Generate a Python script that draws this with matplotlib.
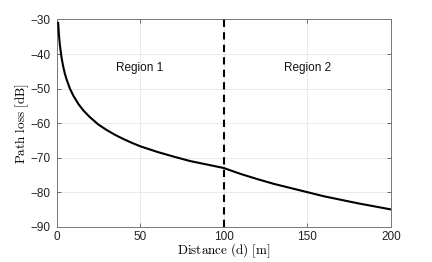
import matplotlib
matplotlib.use("Agg")
import matplotlib.pyplot as plt

# Data
distance_m = [1, 1.5, 2, 3, 4, 5, 6, 8, 10, 13, 16, 20, 25, 30, 35, 40, 45, 50, 60, 70, 80, 90,
              100, 110, 120, 130, 140, 150, 160, 170, 180, 190, 200]
path_loss_db = [-31.0, -34.7, -37.3, -41.0, -43.6, -45.7, -47.3, -50.0, -52.0, -54.4, -56.3,
                -58.3, -60.4, -62.0, -63.4, -64.6, -65.7, -66.7, -68.3, -69.7, -71.0, -72.0,
                -73.0, -74.7, -76.2, -77.6, -78.8, -80.0, -81.2, -82.2, -83.2, -84.1, -85.0]
breakpoint_m = 100
region_labels = ["Region 1", "Region 2"]
region_label_x = [50, 150]
region_label_y = -44
x_ticks = [0, 50, 100, 150, 200]
y_ticks = [-90, -80, -70, -60, -50, -40, -30]

plt.rcParams['mathtext.fontset'] = 'cm'
plt.rcParams['font.family'] = ['Liberation Sans', 'DejaVu Sans']

fig = plt.figure(figsize=(4.32, 2.62), dpi=100)
ax = fig.add_axes([0.1308, 0.1347, 0.905 - 0.1308, 0.9256 - 0.1347])

ax.plot(distance_m, path_loss_db, color='black', linewidth=1.5, zorder=3)
ax.axvline(breakpoint_m, color='black', linestyle=(0, (3.5, 2.5)), linewidth=1.5, zorder=3)

for lbl, xx in zip(region_labels, region_label_x):
    ax.text(xx, region_label_y, lbl, ha='center', va='center', fontsize=8.5, color='#111111')

ax.set_xlim(0, 200)
ax.set_ylim(-90, -30)
ax.set_xticks(x_ticks)
ax.set_yticks(y_ticks)
ax.grid(True, color='#e6e6e6', linewidth=0.6)
ax.set_axisbelow(True)
ax.tick_params(direction='in', top=True, right=True, length=3, width=0.6,
               color='#555555', labelsize=8.5, labelcolor='#222222', pad=4)
ax.tick_params(axis='x', pad=3)
for s in ax.spines.values():
    s.set_color('#777777')
    s.set_linewidth(0.7)

ax.set_xlabel(r'$\mathrm{Distance\ (d)\ [m]}$', fontsize=9.5, labelpad=-1)
ax.set_ylabel(r'$\mathrm{Path\ loss\ [dB]}$', fontsize=9.5, labelpad=0)

fig.savefig('out.png', dpi=100)
